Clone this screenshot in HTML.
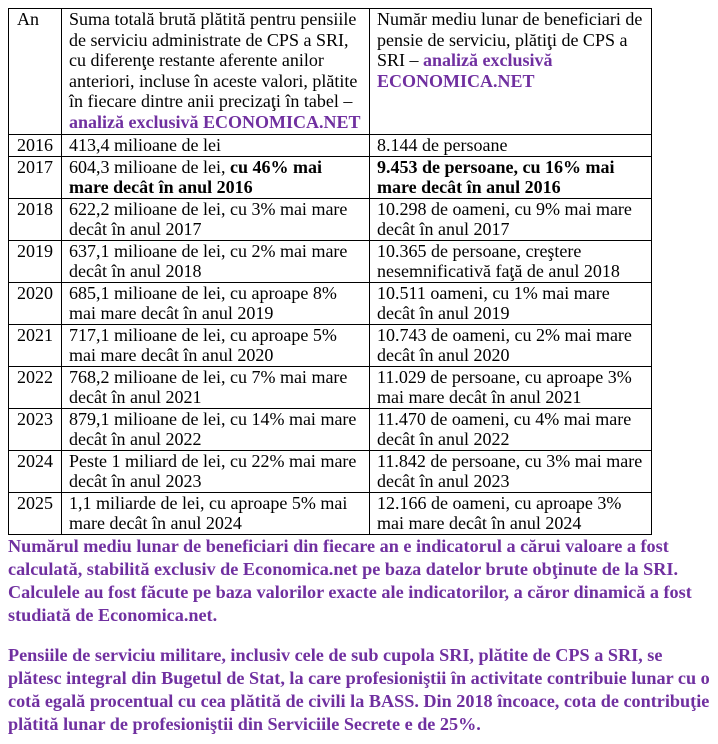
<!DOCTYPE html>
<html><head><meta charset="utf-8"><style>
body{margin:0;background:#fff;width:718px;height:744px;overflow:hidden;font-family:"Liberation Serif",serif;color:#000}
table{position:absolute;left:8px;top:8px;border-collapse:collapse;font-size:18px;line-height:20.5px}
td{border:1.3px solid #000;vertical-align:top;padding:0 4px 0 7px;white-space:nowrap;overflow:hidden}
td.a{width:40px;padding-left:8px}
td.b{width:296px}
td.c{width:270px}
.p{color:#7030a0;font-weight:bold}
.t{position:absolute;left:8px;width:715px;font-size:18.2px;line-height:23px;color:#7030a0;font-weight:bold;white-space:nowrap}
</style></head><body>
<table>
<tr style="height:126px"><td class="a">An</td><td class="b">Suma totală brută plătită pentru pensiile<br>de serviciu administrate de CPS a SRI,<br>cu diferenţe restante aferente anilor<br>anteriori, incluse în aceste valori, plătite<br>în fiecare dintre anii precizaţi în tabel –<br><span class="p">analiză exclusivă ECONOMICA.NET</span></td><td class="c">Număr mediu lunar de beneficiari de<br>pensie de serviciu, plătiţi de CPS a<br>SRI – <span class="p">analiză exclusivă<br>ECONOMICA.NET</span></td></tr>
<tr style="height:20px"><td class="a">2016</td><td>413,4 milioane de lei</td><td>8.144 de persoane</td></tr>
<tr style="height:41px"><td class="a">2017</td><td>604,3 milioane de lei, <b>cu 46% mai<br>mare decât în anul 2016</b></td><td><b>9.453 de persoane, cu 16% mai<br>mare decât în anul 2016</b></td></tr>
<tr style="height:41px"><td class="a">2018</td><td>622,2 milioane de lei, cu 3% mai mare<br>decât în anul 2017</td><td>10.298 de oameni, cu 9% mai mare<br>decât în anul 2017</td></tr>
<tr style="height:41px"><td class="a">2019</td><td>637,1 milioane de lei, cu 2% mai mare<br>decât în anul 2018</td><td>10.365 de persoane, creştere<br>nesemnificativă faţă de anul 2018</td></tr>
<tr style="height:41px"><td class="a">2020</td><td>685,1 milioane de lei, cu aproape 8%<br>mai mare decât în anul 2019</td><td>10.511 oameni, cu 1% mai mare<br>decât în anul 2019</td></tr>
<tr style="height:41px"><td class="a">2021</td><td>717,1 milioane de lei, cu aproape 5%<br>mai mare decât în anul 2020</td><td>10.743 de oameni, cu 2% mai mare<br>decât în anul 2020</td></tr>
<tr style="height:41px"><td class="a">2022</td><td>768,2 milioane de lei, cu 7% mai mare<br>decât în anul 2021</td><td>11.029 de persoane, cu aproape 3%<br>mai mare decât în anul 2021</td></tr>
<tr style="height:41px"><td class="a">2023</td><td>879,1 milioane de lei, cu 14% mai mare<br>decât în anul 2022</td><td>11.470 de oameni, cu 4% mai mare<br>decât în anul 2022</td></tr>
<tr style="height:41px"><td class="a">2024</td><td>Peste 1 miliard de lei, cu 22% mai mare<br>decât în anul 2023</td><td>11.842 de persoane, cu 3% mai mare<br>decât în anul 2023</td></tr>
<tr style="height:41px"><td class="a">2025</td><td>1,1 miliarde de lei, cu aproape 5% mai<br>mare decât în anul 2024</td><td>12.166 de oameni, cu aproape 3%<br>mai mare decât în anul 2024</td></tr>
</table>
<div class="t" style="top:535px">Numărul mediu lunar de beneficiari din fiecare an e indicatorul a cărui valoare a fost<br>calculată, stabilită exclusiv de Economica.net pe baza datelor brute obţinute de la SRI.<br>Calculele au fost făcute pe baza valorilor exacte ale indicatorilor, a căror dinamică a fost<br>studiată de Economica.net.</div>
<div class="t" style="top:644px">Pensiile de serviciu militare, inclusiv cele de sub cupola SRI, plătite de CPS a SRI, se<br>plătesc integral din Bugetul de Stat, la care profesioniştii în activitate contribuie lunar cu o<br>cotă egală procentual cu cea plătită de civili la BASS. Din 2018 încoace, cota de contribuţie<br>plătită lunar de profesioniştii din Serviciile Secrete e de 25%.</div>
</body></html>
